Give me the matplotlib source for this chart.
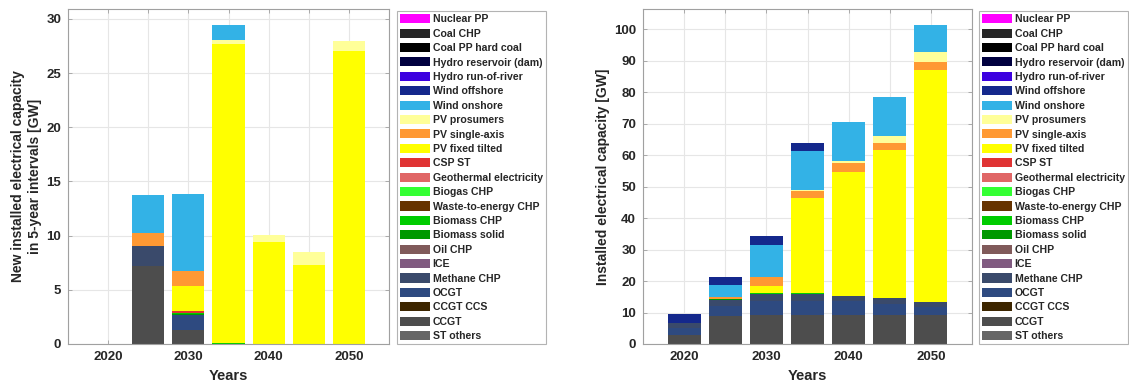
import matplotlib
matplotlib.use("Agg")
import matplotlib.pyplot as plt
from matplotlib.patches import Patch

plt.rcParams["font.family"] = ["Liberation Sans", "DejaVu Sans"]
plt.rcParams["font.weight"] = "bold"

years = [2020, 2025, 2030, 2035, 2040, 2045, 2050]
tick_years = [2015, 2020, 2025, 2030, 2035, 2040, 2045, 2050, 2055]
tick_labels = ["", "2020", "", "2030", "", "2040", "", "2050", ""]

# Technologies, listed top (legend first) to bottom of the stack
techs = ["Nuclear PP", "Coal CHP", "Coal PP hard coal", "Hydro reservoir (dam)",
         "Hydro run-of-river", "Wind offshore", "Wind onshore", "PV prosumers",
         "PV single-axis", "PV fixed tilted", "CSP ST", "Geothermal electricity",
         "Biogas CHP", "Waste-to-energy CHP", "Biomass CHP", "Biomass solid",
         "Oil CHP", "ICE", "Methane CHP", "OCGT", "CCGT CCS", "CCGT", "ST others"]
colors = ["#ff00ff", "#262626", "#000000", "#00003f", "#3c00e0", "#14288c",
          "#33b2e6", "#ffff99", "#ff9933", "#ffff00", "#e03333", "#e06666",
          "#33ff33", "#663300", "#00cc00", "#009900", "#805a5a", "#805a80",
          "#3a4a6b", "#2e4a80", "#3d2600", "#4d4d4d", "#666666"]

# New installed capacity per 5-year interval [GW]
new_wind_onshore = [0, 3.5, 7.15, 1.4, 0, 0, 0]
new_pv_prosumers = [0, 0, 0, 0.35, 0.65, 1.25, 0.95]
new_pv_single_axis = [0, 1.19, 1.35, 0, 0, 0, 0]
new_pv_fixed = [0, 0, 2.35, 27.62, 9.4, 7.25, 27.0]
new_csp = [0, 0, 0.1, 0, 0, 0, 0]
new_biomass_chp = [0, 0, 0.1, 0.08, 0, 0, 0]
new_biomass_solid = [0, 0.06, 0.15, 0, 0, 0, 0]
new_methane_chp = [0, 1.8, 0, 0, 0, 0, 0]
new_ocgt = [0, 0, 1.35, 0, 0, 0, 0]
new_ccgt = [0, 7.2, 1.3, 0, 0, 0, 0]

# Total installed capacity [GW]
inst_wind_offshore = [2.8, 2.5, 2.9, 2.6, 0, 0, 0]
inst_wind_onshore = [0, 3.7, 10.35, 12.2, 12.1, 12.3, 8.7]
inst_pv_prosumers = [0, 0, 0, 0.3, 0.8, 2.1, 3.2]
inst_pv_single_axis = [0, 0.85, 2.65, 2.4, 2.7, 2.5, 2.4]
inst_pv_fixed = [0, 0.05, 2.35, 30.1, 39.4, 46.8, 73.9]
inst_csp = [0, 0, 0.1, 0.1, 0.1, 0, 0]
inst_biomass_chp = [0, 0, 0.1, 0.15, 0.1, 0.1, 0]
inst_biomass_solid = [0, 0.05, 0.15, 0.15, 0, 0, 0]
inst_methane_chp = [1.7, 2.1, 2.0, 2.0, 1.6, 1.8, 1.5]
inst_ocgt = [2.05, 3.2, 4.5, 4.5, 4.3, 3.5, 2.4]
inst_ccgt = [2.95, 8.8, 9.3, 9.3, 9.3, 9.3, 9.3]

new_series = {
    "Wind onshore": new_wind_onshore, "PV prosumers": new_pv_prosumers,
    "PV single-axis": new_pv_single_axis, "PV fixed tilted": new_pv_fixed,
    "CSP ST": new_csp, "Biomass CHP": new_biomass_chp,
    "Biomass solid": new_biomass_solid, "Methane CHP": new_methane_chp,
    "OCGT": new_ocgt, "CCGT": new_ccgt,
}
inst_series = {
    "Wind offshore": inst_wind_offshore, "Wind onshore": inst_wind_onshore,
    "PV prosumers": inst_pv_prosumers, "PV single-axis": inst_pv_single_axis,
    "PV fixed tilted": inst_pv_fixed, "CSP ST": inst_csp,
    "Biomass CHP": inst_biomass_chp, "Biomass solid": inst_biomass_solid,
    "Methane CHP": inst_methane_chp, "OCGT": inst_ocgt, "CCGT": inst_ccgt,
}

W, H = 1129, 388
fig = plt.figure(figsize=(W / 100, H / 100), dpi=100)

TXT = "#262626"
GRID = "#e6e6e6"
SPINE = "#a0a0a0"


def stacked(ax, series, yticks, ylabel):
    bottoms = [0.0] * len(years)
    for name, col in zip(reversed(techs), reversed(colors)):
        vals = series.get(name, [0] * len(years))
        ax.bar(years, vals, width=4, bottom=bottoms, color=col,
               edgecolor="none", zorder=2)
        bottoms = [b + v for b, v in zip(bottoms, vals)]
    ax.set_xlim(2015, 2055)
    ax.set_ylim(0, 1.05 * max(bottoms))
    ax.set_xticks(tick_years)
    ax.set_xticklabels(tick_labels)
    ax.set_yticks(yticks)
    ax.grid(True, color=GRID, linewidth=0.8, zorder=0)
    ax.set_axisbelow(True)
    ax.tick_params(direction="in", length=3, width=0.6, colors=SPINE,
                   labelcolor=TXT, labelsize=9.5, top=True, right=True, pad=5)
    for lab in ax.get_xticklabels() + ax.get_yticklabels():
        lab.set_fontweight("bold")
    for s in ax.spines.values():
        s.set_color(SPINE)
        s.set_linewidth(0.8)
    ax.set_xlabel("Years", fontsize=10.5, fontweight="bold", color=TXT,
                  labelpad=4)
    ax.set_ylabel(ylabel, fontsize=10, fontweight="bold", color=TXT,
                  linespacing=1.3, labelpad=3)


def legend(x0):
    handles = [Patch(facecolor=c, edgecolor="none", label=t)
               for t, c in zip(techs, colors)]
    leg = fig.legend(handles=handles, loc="upper left",
                     bbox_to_anchor=(x0 / W, 1 - 11 / H),
                     bbox_transform=fig.transFigure, borderaxespad=0,
                     fontsize=7.6, frameon=True, fancybox=False,
                     handlelength=2.85, handleheight=0.95, handletextpad=0.22,
                     labelspacing=0.4, borderpad=0.3)
    fr = leg.get_frame()
    fr.set_edgecolor(SPINE)
    fr.set_linewidth(0.8)
    for t in leg.get_texts():
        t.set_fontweight("bold")
        t.set_color(TXT)


ax1 = fig.add_axes([68 / W, 44 / H, 321 / W, 335 / H])
stacked(ax1, new_series, [0, 5, 10, 15, 20, 25, 30],
        "New installed electrical capacity\nin 5-year intervals [GW]")
legend(397)

ax2 = fig.add_axes([643 / W, 44 / H, 329 / W, 335 / H])
stacked(ax2, inst_series, list(range(0, 101, 10)),
        "Installed electrical capacity [GW]")
legend(979)

fig.savefig("out.png", dpi=100)
